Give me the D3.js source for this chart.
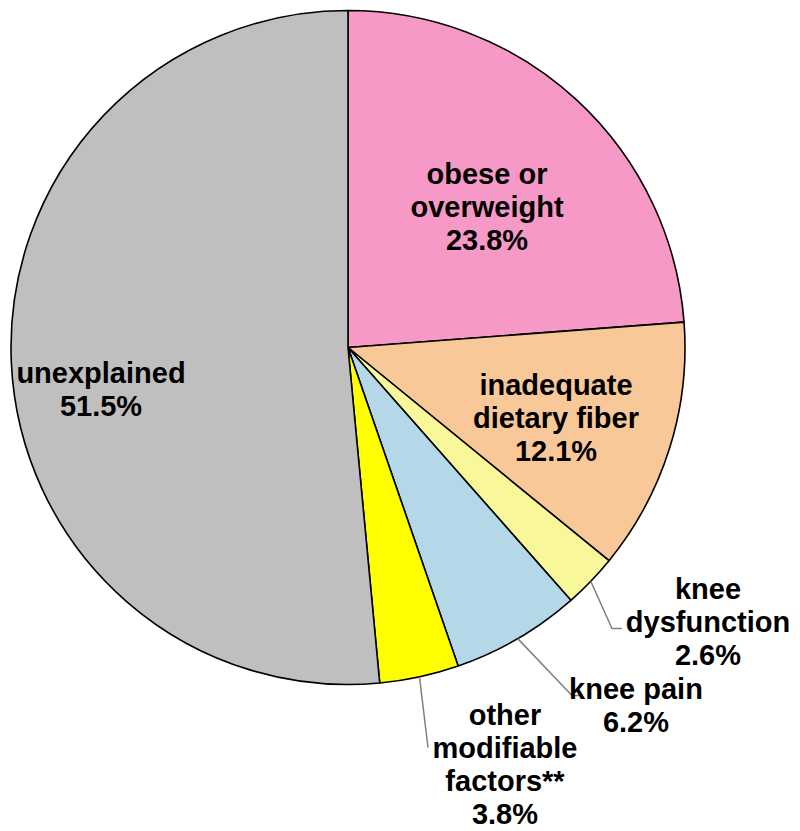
<!DOCTYPE html>
<html>
<head>
<meta charset="utf-8">
<script src="https://cdn.jsdelivr.net/npm/d3@7"></script>
<style>
  body { margin: 0; background: #fff; }
  svg text { font-family: "Liberation Sans", Arial, sans-serif; font-weight: bold; font-size: 29px; fill: #000; }
</style>
</head>
<body>
<svg width="800" height="831"></svg>
<script>
const categories = ['obese or overweight', 'inadequate dietary fiber', 'knee dysfunction', 'knee pain', 'other modifiable factors**', 'unexplained']
const values = [23.8, 12.1, 2.6, 6.2, 3.8, 51.5]
const colors = ['#F799C7', '#F9C899', '#F8F79A', '#B4D8E8', '#FFFF00', '#BFBFBF']
const labelLines = [
    ['obese or', 'overweight', '23.8%'],
    ['inadequate', 'dietary fiber', '12.1%'],
    ['knee', 'dysfunction', '2.6%'],
    ['knee pain', '6.2%'],
    ['other', 'modifiable', 'factors**', '3.8%'],
    ['unexplained', '51.5%']
]

const svg = d3.select('svg')
const cx = 348, cy = 347.5, R = 337
const g = svg.append('g').attr('transform', `translate(${cx},${cy})`)

const pie = d3.pie().sort(null).value(d => d.value)
const arc = d3.arc().innerRadius(0).outerRadius(R)
const data = categories.map((c, i) => ({ name: c, value: values[i], color: colors[i], lines: labelLines[i] }))
const arcs = pie(data)

g.selectAll('path.slice').data(arcs)
    .enter().append('path')
        .attr('class', 'slice')
        .attr('d', arc)
        .attr('fill', d => d.data.color)
        .attr('stroke', '#000')
        .attr('stroke-width', 1.6)
        .attr('stroke-linejoin', 'round')

// label placement: inside labels at fixed offsets, outside ones with leader lines
const inside = {
    0: { x: 139, y: -141 },
    1: { x: 208, y: 70 },
    5: { x: -247, y: 42 }
}
const outside = {
    2: { elbow: [264, 281], end: [274, 281], text: [360, 274] },
    3: { elbow: [224, 348], end: [235, 348], text: [288, 358] },
    4: { elbow: [80, 400], end: [80, 400], text: [157, 417] }
}
const lineH = 33

arcs.forEach((a, i) => {
    const mid = (a.startAngle + a.endAngle) / 2
    let pos
    if (inside[i]) {
        pos = [inside[i].x, inside[i].y]
    } else {
        const o = outside[i]
        const start = [R * Math.sin(mid), -R * Math.cos(mid)]
        g.append('path')
            .attr('d', d3.line()([start, o.elbow, o.end]))
            .attr('fill', 'none')
            .attr('stroke', '#808080')
            .attr('stroke-width', 1.5)
        pos = o.text
    }
    const n = a.data.lines.length
    const t = g.append('text')
        .attr('text-anchor', 'middle')
        .attr('x', pos[0])
        .attr('y', pos[1] - (n - 1) * lineH / 2)
    t.selectAll('tspan').data(a.data.lines)
        .enter().append('tspan')
            .attr('x', pos[0])
            .attr('dy', (d, j) => j === 0 ? '0.35em' : lineH)
            .text(d => d)
})
</script>
</body>
</html>
